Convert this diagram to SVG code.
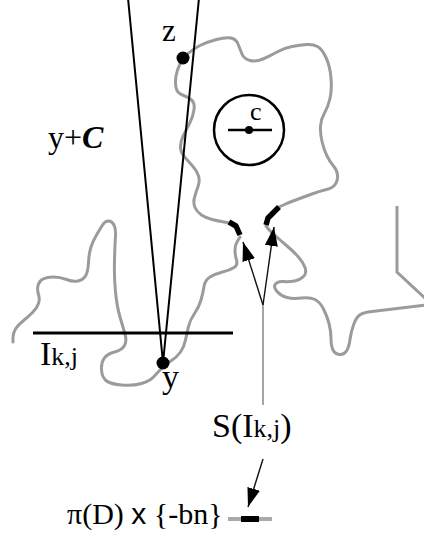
<svg xmlns="http://www.w3.org/2000/svg" width="424" height="537" viewBox="0 0 424 537">
<style>
.t{font-family:"Liberation Serif","Times New Roman",serif;fill:#000}
.g{fill:none;stroke:#9b9b9b;stroke-width:3;stroke-linecap:round;stroke-linejoin:round}
.hl{fill:none;stroke:#000;stroke-width:5.5;stroke-linejoin:round}
.ln{fill:none;stroke:#000;stroke-width:2}
.ar{fill:none;stroke:#111;stroke-width:1.4}
</style>
<defs>
<marker id="ah" viewBox="0 0 19 13" refX="19" refY="6.5" markerWidth="19" markerHeight="13" markerUnits="userSpaceOnUse" orient="auto">
<path d="M0,0 L19,6.5 L0,13 z" fill="#000"/>
</marker>
</defs>
<g id="region">
<path class="g" d="M13,342 L13,337.5 Q13,333 15.5,329 Q18,325 23,321 Q28,317 32.5,312.5 Q37,308 38.5,303.5 Q40,299 38.5,294.5 Q37,290 38,285.5 Q39,281 43,279 Q47,277 53.5,277 Q60,277 66.5,279.5 Q73,282 78,281 Q83,280 85.5,276 Q88,272 88.5,262.5 Q89,253 91,247 Q93,241 96.5,235 Q100,229 102.5,225 Q105,221 108.5,221 Q112,221 114,225 Q116,229 115.5,236 Q115,243 114.5,260 Q114,277 115.5,292 Q117,307 120,317 Q123,327 125,334 Q127,341 124.5,345.5 Q122,350 114.5,352 Q107,354 104,358.5 Q101,363 101.5,370 Q102,377 106,380.5 Q110,384 121.5,385 Q133,386 141.5,383.5 Q150,381 154,376.5 Q158,372 162,368 Q166,364 171.5,360.5 Q177,357 180.5,352 Q184,347 185.5,340 Q187,333 188.5,326.5 Q190,320 194.5,313.5 Q199,307 201,300 Q203,293 204,286.5 Q205,280 210,277 Q215,274 222.5,272 Q230,270 234,267.5 Q238,265 236.5,260 Q235,255 235,250 Q235,245 237.5,241 L240,237"/>
<path class="g" d="M230,223 L224,222 Q218,221 212,219.5 Q206,218 201.5,215 Q197,212 195,207.5 Q193,203 194.5,197.5 Q196,192 198,186.5 Q200,181 198.5,176 Q197,171 193,166.5 Q189,162 185,157.5 Q181,153 180.5,148 Q180,143 183,136.5 Q186,130 189.5,123.5 Q193,117 194,110 Q195,103 191.5,100 Q188,97 182.5,95 Q177,93 176,87.5 Q175,82 176,76 Q177,70 180,64 Q183,58 188,53.5 Q193,49 200,45.5 Q207,42 216.5,39.5 Q226,37 231,38 Q236,39 238,44 Q240,49 242,54 Q244,59 250,60.5 Q256,62 263,59 Q270,56 277,52 Q284,48 292,46.5 Q300,45 306.5,44.5 Q313,44 317.5,46.5 Q322,49 326,57.5 Q330,66 331,78 Q332,90 330,98.5 Q328,107 324.5,113 Q321,119 320.5,126 Q320,133 322,141.5 Q324,150 327,156 Q330,162 333.5,166 Q337,170 337.5,175 Q338,180 335.5,184 Q333,188 326.5,189.5 Q320,191 312,194 Q304,197 297,199.5 Q290,202 284.5,204.5 L279,207"/>
<path class="g" d="M266,226 L268,228.5 Q270,231 275,235.5 Q280,240 286.5,245.5 Q293,251 298,256.5 Q303,262 305,267.5 Q307,273 303.5,276.5 Q300,280 294.5,281 Q289,282 283.5,281.5 Q278,281 275.5,284 Q273,287 277,291.5 Q281,296 287,297.5 Q293,299 301.5,298 Q310,297 315,299.5 Q320,302 323.5,309 Q327,316 329,323.5 Q331,331 331,338.5 Q331,346 333,350 Q335,354 339.5,354.5 Q344,355 346.5,351 Q349,347 350,339.5 Q351,332 353.5,325 Q356,318 359,315.5 Q362,313 368,312 L426,305"/>
<path class="g" style="stroke-linejoin:miter;stroke-linecap:butt" d="M397,206 L397,272 L427,300"/>
<path class="hl" d="M229,222 L236,226 L240,235"/>
<path class="hl" d="M279,207 L268,218 L266,225"/>
</g>
<g id="cone">
<path class="ln" d="M128,-2 L163,363 M199,-2 L163,363"/>
</g>
<g id="interval">
<path d="M33,333 L233,333" stroke="#000" stroke-width="3"/>
<text class="t" x="40" y="365" font-size="34">I<tspan font-size="26">k,j</tspan></text>
</g>
<g id="z">
<circle cx="183" cy="58" r="6.5" fill="#000"/>
<text class="t" x="162" y="41" font-size="31">z</text>
</g>
<g id="y">
<circle cx="163" cy="363" r="6.5" fill="#000"/>
<text class="t" x="162" y="388" font-size="34">y</text>
</g>
<g id="yC">
<text class="t" x="48" y="148" font-size="32">y+<tspan font-weight="bold" font-style="italic">C</tspan></text>
</g>
<g id="c">
<circle cx="249" cy="130" r="35" fill="none" stroke="#000" stroke-width="2.5"/>
<path d="M228,130 L272,130" stroke="#000" stroke-width="2.5"/>
<circle cx="249" cy="130" r="4" fill="#000"/>
<text class="t" x="250" y="120" font-size="26">c</text>
</g>
<g id="S">
<text class="t" x="212" y="437" font-size="34">S(I<tspan font-size="26">k,j</tspan>)</text>
</g>
<g id="pi">
<text class="t" x="67" y="524" font-size="30">π(D) <tspan font-family="Liberation Sans, Arial, sans-serif">x</tspan> {-bn}</text>
<path d="M228,519 L272,519" stroke="#aaa" stroke-width="4"/>
<path d="M241,519 L259,519" stroke="#000" stroke-width="6"/>
</g>
<g id="connectors">
<path d="M263,405 L263,305" stroke="#888" stroke-width="1.5" fill="none"/>
<path class="ar" d="M263,305 L243,242" marker-end="url(#ah)"/>
<path class="ar" d="M263,305 L274,227" marker-end="url(#ah)"/>
<path class="ar" d="M263,459 L248,507" marker-end="url(#ah)"/>
</g>
</svg>
